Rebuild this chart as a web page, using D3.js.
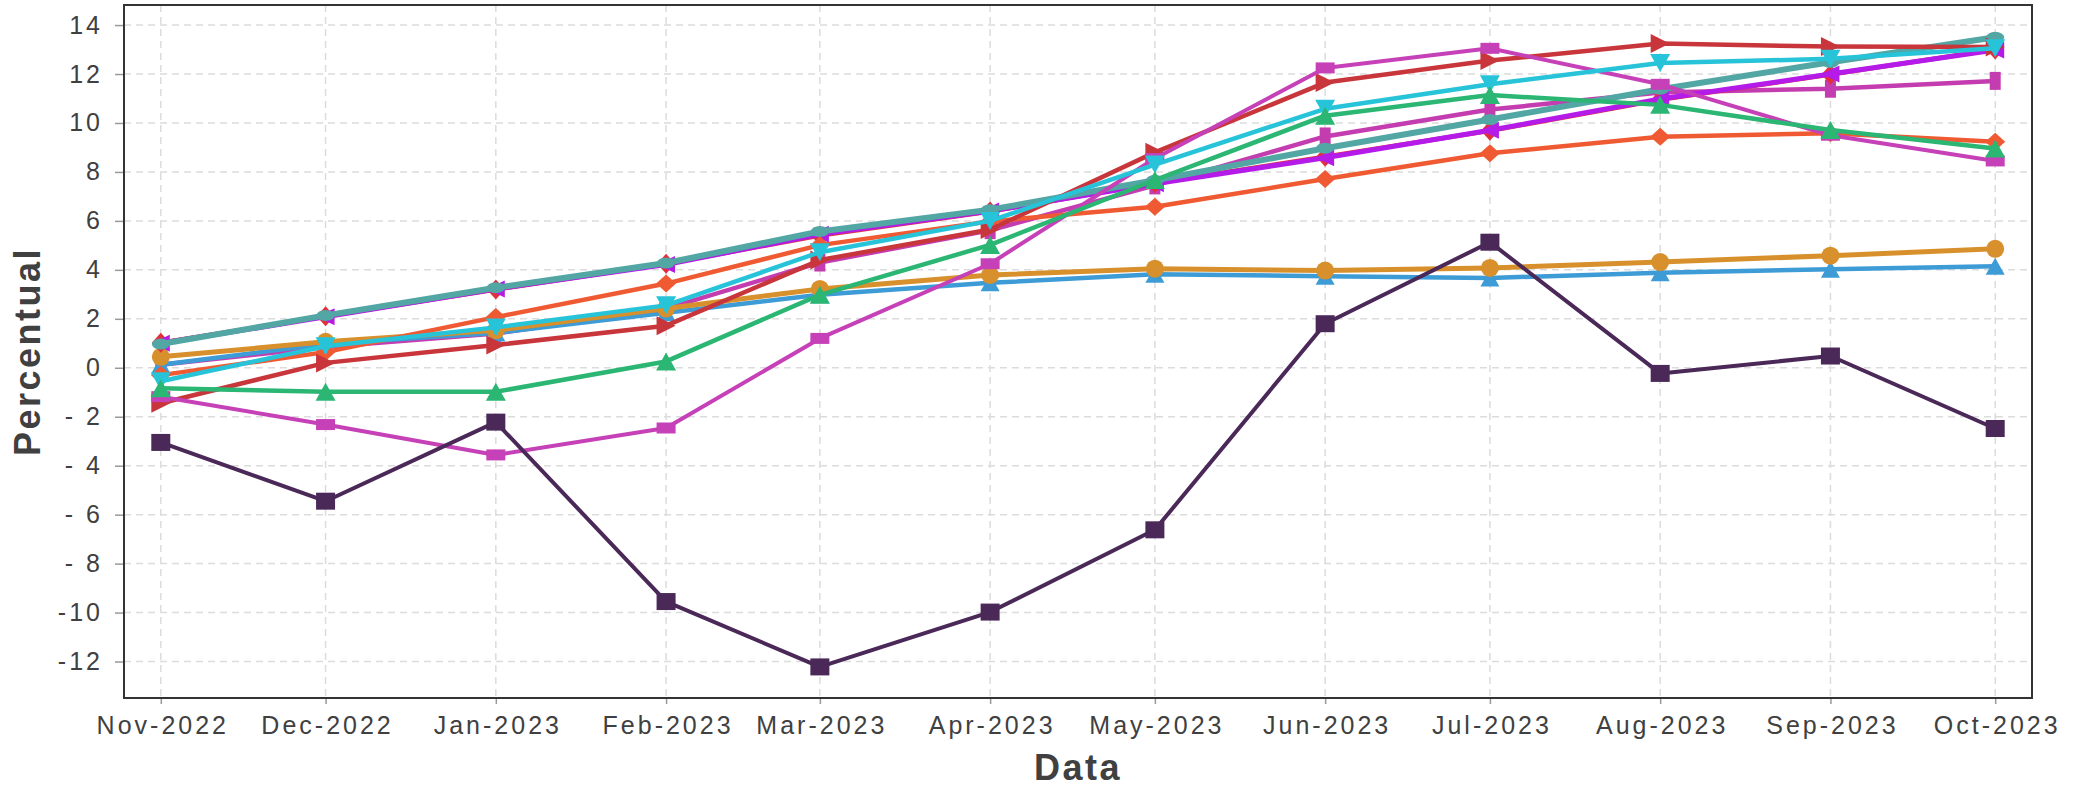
<!DOCTYPE html>
<html>
<head>
<meta charset="utf-8">
<script src="https://cdn.jsdelivr.net/npm/d3@7"></script>
<style>
  html, body { margin: 0; padding: 0; background: #fff; }
  svg { display: block; }
  text { font-family: "Liberation Sans", Arial, sans-serif; }
</style>
</head>
<body>
<svg id="chart" width="2080" height="789"></svg>
<script>
// ---------- data ----------
const monthDates = ["2022-11-01","2022-12-01","2023-01-01","2023-02-01","2023-03-01","2023-04-01",
                    "2023-05-01","2023-06-01","2023-07-01","2023-08-01","2023-09-01","2023-10-01"];
const monthLabels = ["Nov-2022","Dec-2022","Jan-2023","Feb-2023","Mar-2023","Apr-2023",
                     "May-2023","Jun-2023","Jul-2023","Aug-2023","Sep-2023","Oct-2023"];
const yTicks = [-12, -10, -8, -6, -4, -2, 0, 2, 4, 6, 8, 10, 12, 14];
const yTickLabels = ["-12", "-10", "- 8", "- 6", "- 4", "- 2", "0", "2", "4", "6", "8", "10", "12", "14"];

const magentaBar  = [0.12, 0.85, 1.40, 2.42, 4.30, 5.62, 7.45, 9.45, 10.55, 11.25, 11.40, 11.72];
const blueUp      = [0.12, 0.98, 1.42, 2.25, 2.98, 3.47, 3.82, 3.74, 3.67, 3.88, 4.03, 4.15];
const goldCircle  = [0.45, 1.06, 1.53, 2.42, 3.22, 3.79, 4.05, 3.97, 4.08, 4.32, 4.58, 4.86];
const redHidden   = [1.02, 2.10, 3.20, 4.25, 5.40, 6.38, 7.55, 8.62, 9.68, 10.95, 11.98, 13.00];
const purpleLeft  = [1.00, 2.08, 3.22, 4.22, 5.45, 6.40, 7.52, 8.58, 9.70, 10.98, 12.00, 12.98];
const orangeDia   = [-0.30, 0.64, 2.07, 3.44, 5.01, 5.98, 6.58, 7.71, 8.76, 9.44, 9.58, 9.23];
const tealCircle  = [0.97, 2.14, 3.27, 4.28, 5.57, 6.46, 7.66, 8.97, 10.14, 11.38, 12.48, 13.50];
const redRight    = [-1.45, 0.20, 0.93, 1.72, 4.40, 5.65, 8.80, 11.65, 12.55, 13.25, 13.12, 13.10];
const magentaSq   = [-1.18, -2.32, -3.56, -2.46, 1.20, 4.25, 8.55, 12.25, 13.05, 11.58, 9.50, 8.45];
const cyanDown    = [-0.55, 0.88, 1.65, 2.55, 4.72, 6.00, 8.30, 10.58, 11.58, 12.45, 12.62, 13.05];
const greenUp     = [-0.84, -0.98, -0.98, 0.26, 2.98, 5.02, 7.67, 10.30, 11.14, 10.74, 9.71, 8.96];
const darkPurple  = [-3.05, -5.45, -2.22, -9.55, -12.22, -9.98, -6.62, 1.80, 5.13, -0.23, 0.48, -2.48];

// ---------- series styling (draw order) ----------
const seriesList = [
  {values: magentaBar, color: "#C43DB0", width: 4.5, marker: "rect",    mw: 11, mh: 18},
  {values: blueUp,     color: "#3D9BD6", width: 4.5, marker: "triUp",   mw: 19, mh: 17},
  {values: goldCircle, color: "#D8902C", width: 5,   marker: "ellipse", mw: 18, mh: 18},
  {values: redHidden,  color: "#E0303E", width: 4.5, marker: "diamond", mw: 18, mh: 20},
  {values: purpleLeft, color: "#B41BE8", width: 5,   marker: "triLeft", mw: 18, mh: 17},
  {values: orangeDia,  color: "#F05A32", width: 4.5, marker: "diamond", mw: 20, mh: 18},
  {values: tealCircle, color: "#52A6A4", width: 6,   marker: "ellipse", mw: 18, mh: 11},
  {values: redRight,   color: "#C8363B", width: 4.5, marker: "triRight",mw: 19, mh: 19},
  {values: magentaSq,  color: "#C640B8", width: 4,   marker: "rect",    mw: 19, mh: 11},
  {values: cyanDown,   color: "#27C4D9", width: 4.5, marker: "triDown", mw: 20, mh: 18},
  {values: greenUp,    color: "#2BB673", width: 4.5, marker: "triUp",   mw: 20, mh: 18},
  {values: darkPurple, color: "#4A2858", width: 4,   marker: "rect",    mw: 19, mh: 17}
];

// ---------- layout ----------
const L = 124, R = 2032, T = 5, B = 698;
const dates = monthDates.map(d => new Date(d + "T00:00:00Z"));
const DAY = 86400000, pad = 6.7 * DAY;
const x = d3.scaleUtc()
  .domain([new Date(dates[0].getTime() - pad), new Date(dates[dates.length - 1].getTime() + pad)])
  .range([L, R]);
const y = d3.scaleLinear().domain([-13.49, 14.82]).range([B, T]);

const svg = d3.select("#chart");

// grid
const grid = svg.append("g");
grid.selectAll("line.h").data(yTicks).enter().append("line")
  .attr("x1", L).attr("x2", R).attr("y1", d => y(d)).attr("y2", d => y(d))
  .attr("stroke", "#dcdcdc").attr("stroke-width", 1.5).attr("stroke-dasharray", "7,5");
grid.selectAll("line.v").data(dates).enter().append("line")
  .attr("y1", T).attr("y2", B).attr("x1", d => x(d)).attr("x2", d => x(d))
  .attr("stroke", "#dcdcdc").attr("stroke-width", 1.5).attr("stroke-dasharray", "7,5");

// axes
const xAxis = d3.axisBottom(x).tickValues(dates).tickFormat((d, i) => monthLabels[i])
  .tickSize(6).tickPadding(12);
const gx = svg.append("g").attr("transform", `translate(0,${B})`).call(xAxis);
gx.select(".domain").remove();
gx.selectAll(".tick line").attr("stroke", "#999").attr("stroke-width", 1.5);
gx.selectAll(".tick text").attr("fill", "#404040").style("font-size", "25px")
  .style("letter-spacing", "3px").attr("dx", "1.5px").attr("dy", "0.71em");

const yAxis = d3.axisLeft(y).tickValues(yTicks).tickFormat((d, i) => yTickLabels[i])
  .tickSize(9).tickPadding(12);
const gy = svg.append("g").attr("transform", `translate(${L},0)`).call(yAxis);
gy.select(".domain").remove();
gy.selectAll(".tick line").attr("stroke", "#999").attr("stroke-width", 1.5);
gy.selectAll(".tick text").attr("fill", "#404040").style("font-size", "25px")
  .style("letter-spacing", "3px").style("white-space", "pre");

// marker paths
function markerPath(type, w, h) {
  const a = w / 2, b = h / 2;
  switch (type) {
    case "rect": return `M${-a},${-b}H${a}V${b}H${-a}Z`;
    case "ellipse": return `M${-a},0A${a},${b} 0 1,0 ${a},0A${a},${b} 0 1,0 ${-a},0Z`;
    case "diamond": return `M0,${-b}L${a},0L0,${b}L${-a},0Z`;
    case "triUp": return `M0,${-b}L${a},${b}L${-a},${b}Z`;
    case "triDown": return `M0,${b}L${a},${-b}L${-a},${-b}Z`;
    case "triLeft": return `M${-a},0L${a},${-b}L${a},${b}Z`;
    case "triRight": return `M${a},0L${-a},${-b}L${-a},${b}Z`;
  }
}

const plot = svg.append("g");
const line = d3.line().x((d, i) => x(dates[i])).y(d => y(d));
seriesList.forEach(s => {
  const g = plot.append("g");
  g.append("path").datum(s.values).attr("d", line)
    .attr("fill", "none").attr("stroke", s.color).attr("stroke-width", s.width)
    .attr("stroke-linejoin", "round");
  g.selectAll("path.m").data(s.values).enter().append("path")
    .attr("class", "m")
    .attr("d", markerPath(s.marker, s.mw, s.mh))
    .attr("transform", (d, i) => `translate(${x(dates[i])},${y(d)})`)
    .attr("fill", s.color);
});

// frame
svg.append("rect").attr("x", L).attr("y", T).attr("width", R - L).attr("height", B - T)
  .attr("fill", "none").attr("stroke", "#333").attr("stroke-width", 2);

// axis titles
svg.append("text").text("Data")
  .attr("x", (L + R) / 2).attr("y", 780).attr("text-anchor", "middle")
  .attr("fill", "#404040").style("font-size", "36px").style("font-weight", "bold")
  .style("letter-spacing", "2.5px");
svg.append("text").text("Percentual")
  .attr("transform", `translate(40,${(T + B) / 2}) rotate(-90)`).attr("text-anchor", "middle")
  .attr("fill", "#404040").style("font-size", "36px").style("font-weight", "bold")
  .style("letter-spacing", "2.5px");
</script>
</body>
</html>
